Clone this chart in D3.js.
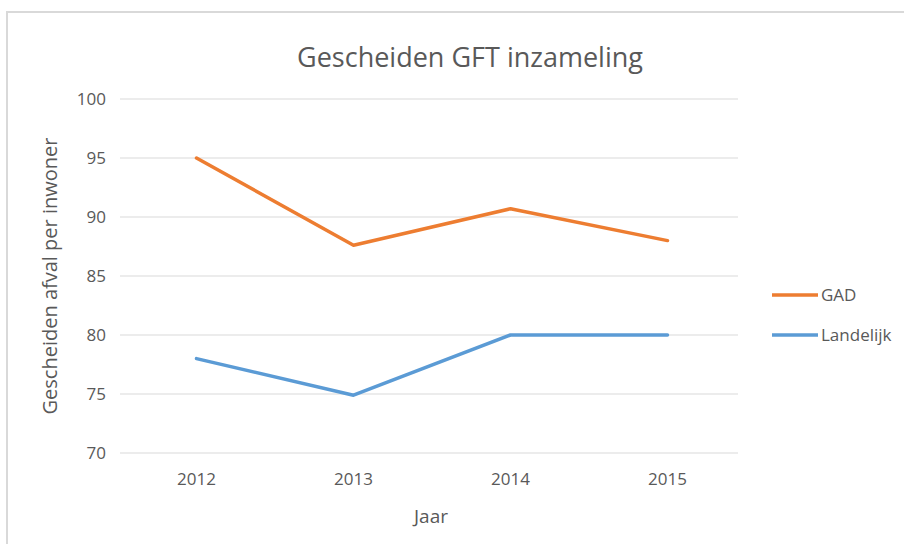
<!DOCTYPE html>
<html>
<head>
<meta charset="utf-8">
<script src="https://cdn.jsdelivr.net/npm/d3@7"></script>
<style>
  body { margin: 0; background: #fff; }
  text { font-family: "Open Sans", "Noto Sans", sans-serif; fill: #595959; }
</style>
</head>
<body>
<div id="chart"></div>
<script>
const years = ["2012", "2013", "2014", "2015"];
const gadValues = [95, 87.6, 90.7, 88.0];
const landelijkValues = [78, 74.9, 80, 80];
const yTicks = [70, 75, 80, 85, 90, 95, 100];

const series = [
  {name: "GAD", values: gadValues, color: "#ED7D31"},
  {name: "Landelijk", values: landelijkValues, color: "#5B9BD5"}
];

const width = 904, height = 544;
const plot = {left: 120, right: 738, top: 99, bottom: 453};

const svg = d3.select("#chart")
  .append("svg")
  .attr("width", width)
  .attr("height", height);

// chart frame
svg.append("rect")
  .attr("x", 7).attr("y", 12)
  .attr("width", width).attr("height", height)
  .attr("fill", "#fff")
  .attr("stroke", "#d9d9d9")
  .attr("stroke-width", 2);

const x = d3.scaleBand().domain(years).range([118, 746]);
const y = d3.scaleLinear().domain([70, 100]).range([plot.bottom, plot.top]);

// gridlines
svg.append("g")
  .selectAll("line")
  .data(yTicks)
  .join("line")
  .attr("x1", plot.left).attr("x2", plot.right)
  .attr("y1", d => y(d)).attr("y2", d => y(d))
  .attr("stroke", "#d9d9d9")
  .attr("stroke-width", 1);

// y axis labels
const yAxis = svg.append("g")
  .attr("transform", `translate(${plot.left - 14},0)`)
  .call(d3.axisLeft(y).tickValues(yTicks).tickSize(0).tickPadding(0));
yAxis.select(".domain").remove();
yAxis.selectAll("text")
  .style("font-size", "17px")
  .attr("fill", "#595959");

// x axis labels
const xAxis = svg.append("g")
  .attr("transform", `translate(0,${plot.bottom + 20})`)
  .call(d3.axisBottom(x).tickSize(0).tickPadding(0));
xAxis.select(".domain").remove();
xAxis.selectAll("text")
  .style("font-size", "17px")
  .attr("fill", "#595959");

// title
svg.append("text")
  .attr("x", 470).attr("y", 67)
  .attr("text-anchor", "middle")
  .style("font-size", "27px")
  .text("Gescheiden GFT inzameling");

// axis titles
svg.append("text")
  .attr("x", 431).attr("y", 523)
  .attr("text-anchor", "middle")
  .style("font-size", "19px")
  .text("Jaar");

svg.append("text")
  .attr("transform", `translate(57,${(plot.top + plot.bottom) / 2}) rotate(-90)`)
  .attr("text-anchor", "middle")
  .style("font-size", "20px")
  .text("Gescheiden afval per inwoner");

// lines
const line = d3.line()
  .x((d, i) => x(years[i]) + x.bandwidth() / 2)
  .y(d => y(d));

svg.append("g")
  .selectAll("path")
  .data(series)
  .join("path")
  .attr("d", d => line(d.values))
  .attr("fill", "none")
  .attr("stroke", d => d.color)
  .attr("stroke-width", 3.5)
  .attr("stroke-linejoin", "round")
  .attr("stroke-linecap", "round");

// legend
const legend = svg.append("g")
  .selectAll("g")
  .data(series)
  .join("g")
  .attr("transform", (d, i) => `translate(772,${295 + i * 40})`);

legend.append("line")
  .attr("x1", 0).attr("x2", 46)
  .attr("stroke", d => d.color)
  .attr("stroke-width", 3.5);

legend.append("text")
  .attr("x", 49).attr("y", 6)
  .style("font-size", "17px")
  .text(d => d.name);
</script>
</body>
</html>
